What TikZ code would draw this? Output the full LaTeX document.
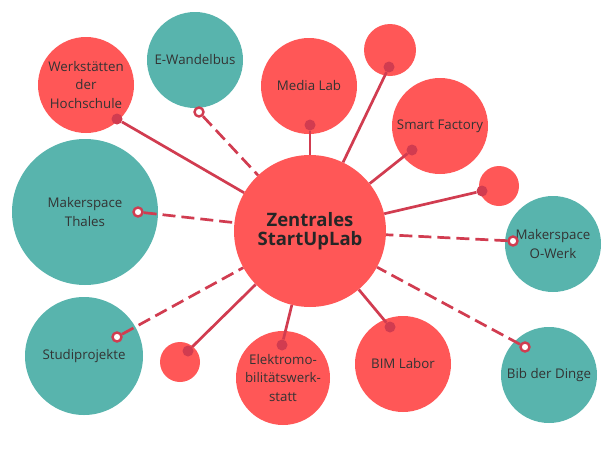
\documentclass[tikz,border=0pt]{standalone}
\usepackage{fontspec}
\setmainfont{Open Sans}
\usetikzlibrary{calc}
\definecolor{ballred}{HTML}{FF5757}
\definecolor{ballteal}{HTML}{58B4AD}
\definecolor{linkred}{HTML}{D13C50}
\definecolor{txtgray}{HTML}{333333}

\begin{document}
\begin{tikzpicture}[x=1pt,y=-1pt,
  redball/.style={circle,fill=ballred,inner sep=0pt,align=center,text=txtgray,
    font=\fontsize{13.3}{18.5}\selectfont},
  tealball/.style={redball,fill=ballteal},
  pin/.style={circle,fill=linkred,inner sep=0pt,minimum size=11pt},
  ring/.style={circle,draw=linkred,fill=white,line width=2.4pt,inner sep=0pt,minimum size=9pt},
  solidlink/.style={linkred,line width=2.7pt},
  dashlink/.style={linkred,line width=2.7pt,dash pattern=on 13pt off 6pt}]
\useasboundingbox (0,0) rectangle (610,458);
% satellites
\node[redball,minimum size=96pt] (werk) at (86,85) {Werkstätten\\der\\Hochschule};
\node[tealball,minimum size=96pt] (wandel) at (195,60) {E-Wandelbus};
\node[redball,minimum size=96pt] (media) at (309,86) {Media Lab};
\node[redball,minimum size=52pt] (top) at (390,50) {};
\node[redball,minimum size=96pt] (smart) at (440,126) {Smart Factory};
\node[redball,minimum size=40pt] (right) at (499,186) {};
\node[tealball,minimum size=96pt] (owerk) at (553,244) {Makerspace\\O-Werk};
\node[tealball,minimum size=96pt] (bib) at (549,375) {Bib der Dinge};
\node[redball,minimum size=96pt] (bim) at (403,364) {BIM Labor};
\node[redball,minimum size=94pt] (elektro) at (283,378) {Elektromo-\\bilitätswerk-\\statt};
\node[redball,minimum size=40pt] (low) at (180,362) {};
\node[tealball,minimum size=118pt] (studi) at (84,356) {Studiprojekte};
\node[tealball,minimum size=146pt] (thales) at (85,212) {Makerspace\\Thales};
% center
\node[redball,minimum size=152pt,font=\fontsize{18.5}{18.5}\selectfont\bfseries,text=black!85]
  (zen) at (310,231) {Zentrales\\StartUpLab};
% end points
\node[pin] (pwerk) at (117,119) {};
\node[ring] (pwandel) at (199,112) {};
\node[ring] (pthales) at (138,212) {};
\node[pin] (pmedia) at (310,125) {};
\node[pin] (ptop) at (389,67) {};
\node[pin] (psmart) at (412,150) {};
\node[pin] (pright) at (482,191) {};
\node[ring] (powerk) at (513,241) {};
\node[ring] (pbib) at (525,347) {};
\node[pin] (pbim) at (390,327) {};
\node[pin] (pelektro) at (282,345) {};
\node[pin] (plow) at (188,351) {};
\node[ring] (pstudi) at (117,337) {};
% links
\draw[solidlink] (pwerk) -- (zen);
\draw[dashlink] (pwandel) -- (zen);
\draw[dashlink] (pthales) -- (zen);
\draw[solidlink] (pmedia) -- (zen);
\draw[solidlink] (ptop) -- (zen);
\draw[solidlink] (psmart) -- (zen);
\draw[solidlink] (pright) -- (zen);
\draw[dashlink] (powerk) -- (zen);
\draw[dashlink] (pbib) -- (zen);
\draw[solidlink] (pbim) -- (zen);
\draw[solidlink] (pelektro) -- (zen);
\draw[solidlink] (plow) -- (zen);
\draw[dashlink] (pstudi) -- (zen);
\end{tikzpicture}
\end{document}
